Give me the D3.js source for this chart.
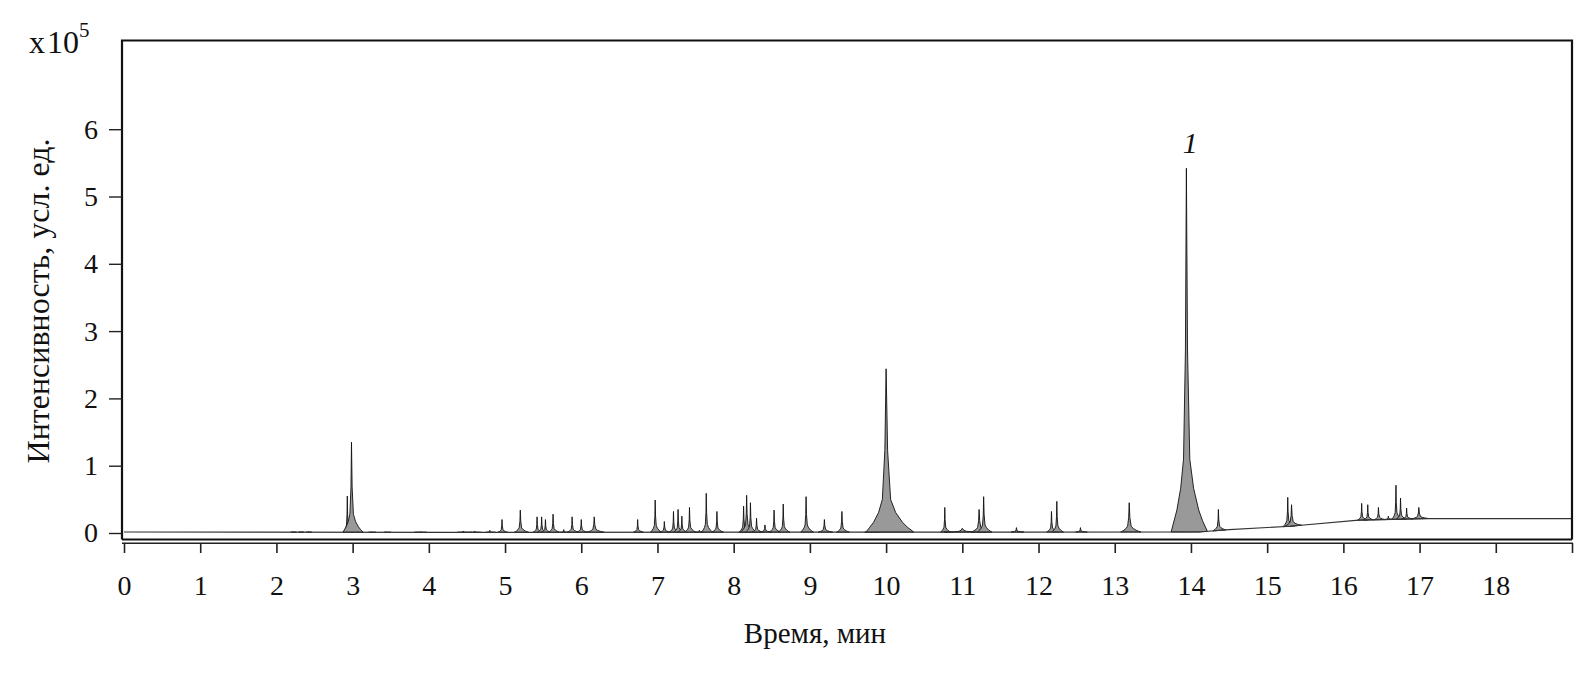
<!DOCTYPE html>
<html><head><meta charset="utf-8">
<script src="https://cdn.jsdelivr.net/npm/d3@7"></script>
<style>body{margin:0;background:#fff}svg{display:block}text{font-family:"Liberation Serif","Times New Roman",serif;fill:#111}</style>
</head><body>
<svg id="c" width="1587" height="683"></svg>
<script>
// ---- data (intensity in units of 10^5) ----
const xTicks = [0,1,2,3,4,5,6,7,8,9,10,11,12,13,14,15,16,17,18,19];
const xTickLabels = ["0","1","2","3","4","5","6","7","8","9","10","11","12","13","14","15","16","17","18",""];
const yTicks = [0,1,2,3,4,5,6];
const baselineTimes = [0, 4.3, 14.1, 14.5, 15.3, 16.2, 17.1, 19];
const baselineVals  = [0.015, 0.01, 0.015, 0.05, 0.1, 0.19, 0.215, 0.215];
const peakTimes = [2.22,2.32,2.42,2.93,2.985,3.25,3.45,3.85,3.92,4.45,4.6,4.8,4.96,5.2,5.42,5.48,5.53,5.63,5.77,5.88,6.0,6.17,6.74,6.97,7.09,7.21,7.27,7.32,7.42,7.55,7.64,7.78,8.13,8.17,8.22,8.3,8.41,8.53,8.65,8.95,9.19,9.42,9.8,10.0,10.77,11.0,11.22,11.28,11.71,12.17,12.24,12.55,13.19,13.94,14.36,15.27,15.32,16.24,16.32,16.46,16.59,16.69,16.75,16.83,16.99];
const peakHeights = [0.02,0.02,0.02,0.55,1.35,0.015,0.015,0.015,0.015,0.03,0.03,0.04,0.2,0.34,0.24,0.24,0.2,0.28,0.05,0.24,0.2,0.24,0.2,0.49,0.17,0.32,0.35,0.25,0.38,0.04,0.59,0.32,0.4,0.56,0.45,0.22,0.12,0.34,0.43,0.54,0.2,0.32,0.05,2.44,0.38,0.07,0.35,0.54,0.08,0.32,0.47,0.08,0.45,5.42,0.35,0.53,0.42,0.44,0.42,0.38,0.25,0.71,0.52,0.37,0.38];
const peakWidths = [0.04,0.04,0.04,0.07,0.14,0.05,0.05,0.05,0.05,0.1,0.08,0.07,0.07,0.1,0.07,0.07,0.07,0.08,0.06,0.08,0.08,0.12,0.07,0.08,0.08,0.07,0.07,0.07,0.08,0.06,0.08,0.08,0.08,0.1,0.08,0.08,0.09,0.08,0.08,0.09,0.1,0.09,0.1,0.33,0.07,0.3,0.13,0.1,0.09,0.08,0.08,0.08,0.14,0.25,0.09,0.08,0.12,0.07,0.07,0.08,0.07,0.07,0.07,0.07,0.12];
const peakLabel = {time: 13.94, text: "1"};

// ---- layout ----
const svg = d3.select("#c");
const pL = 122, pR = 1572, pT = 40.5, frameBottom = 539.5;
const x = d3.scaleLinear().domain([0, 19]).range([124, 1572]);
const y = d3.scaleLinear().domain([0, 7.318]).range([533, pT]);
const base = d3.scaleLinear().domain(baselineTimes).range(baselineVals);

// peak profile (relative shape, slight tailing)
const profX = [-0.8, -0.65, -0.5, -0.3, -0.15, -0.05, 0, 0.06, 0.18, 0.38, 0.65, 0.85, 1.1];
const profF = [0, 0.03, 0.06, 0.12, 0.2, 0.5, 1, 0.5, 0.2, 0.12, 0.06, 0.03, 0];

const g = svg.append("g");
const peaks = peakTimes.map((t, i) => ({t, h: peakHeights[i], w: peakWidths[i]}));
const area = d3.area().x(d => x(d[0])).y0(d => y(base(d[0]))).y1(d => y(d[1]));
peaks.forEach(p => {
  const pts = profX.map((r, k) => {
    const tt = p.t + r * p.w;
    return [tt, base(tt) + (p.h - base(p.t)) * profF[k]];
  });
  g.append("path").attr("d", area(pts))
    .attr("fill", "#999").attr("stroke", "#111").attr("stroke-width", 0.9)
    .attr("stroke-linejoin", "round");
});
// baseline
g.append("path").datum(baselineTimes.map((t, i) => [t, baselineVals[i]]))
  .attr("d", d3.line().x(d => x(d[0])).y(d => y(d[1])))
  .attr("fill", "none").attr("stroke", "#333").attr("stroke-width", 1.2);

// frame
svg.append("path").attr("d", `M${pL},${frameBottom}V${pT}H${pR}V${frameBottom}`)
  .attr("fill", "none").attr("stroke", "#111").attr("stroke-width", 2.2);
svg.append("line").attr("x1", pL).attr("x2", pR).attr("y1", frameBottom).attr("y2", frameBottom)
  .attr("stroke", "#111").attr("stroke-width", 2.2);
svg.append("line").attr("x1", pL).attr("x2", pR + 1).attr("y1", 543.2).attr("y2", 543.2)
  .attr("stroke", "#222").attr("stroke-width", 1.6);

// x axis
const xa = svg.append("g").attr("transform", "translate(0,543)")
  .call(d3.axisBottom(x).tickValues(xTicks).tickSize(10).tickPadding(22)
    .tickFormat((d, i) => xTickLabels[i]));
xa.select(".domain").remove();
xa.selectAll("line").attr("stroke", "#222").attr("stroke-width", 1.6);
xa.selectAll("text").attr("font-size", 28).attr("font-family", "Liberation Serif").attr("fill", "#111");

// y axis
const ya = svg.append("g").attr("transform", `translate(${pL},0)`)
  .call(d3.axisLeft(y).tickValues(yTicks).tickSize(13).tickPadding(11).tickFormat(d3.format("d")));
ya.select(".domain").remove();
ya.selectAll("line").attr("stroke", "#222").attr("stroke-width", 1.4);
ya.selectAll("text").attr("font-size", 28).attr("font-family", "Liberation Serif").attr("fill", "#111");

// multiplier
const m = svg.append("text").attr("x", 29).attr("y", 53).attr("font-size", 32);
m.append("tspan").text("x");
m.append("tspan").attr("dx", 2).text("10");
m.append("tspan").attr("dy", -16).attr("font-size", 21).text("5");

// axis titles
svg.append("text").attr("x", 815).attr("y", 643).attr("text-anchor", "middle").attr("font-size", 29).text("Время, мин");
svg.append("text").attr("transform", "translate(49,301) rotate(-90)").attr("text-anchor", "middle")
  .attr("font-size", 32).text("Интенсивность, усл. ед.");

// peak label
svg.append("text").attr("x", x(peakLabel.time) + 4).attr("y", 153).attr("text-anchor", "middle")
  .attr("font-size", 30).attr("font-style", "italic").text(peakLabel.text);
</script>
</body></html>
